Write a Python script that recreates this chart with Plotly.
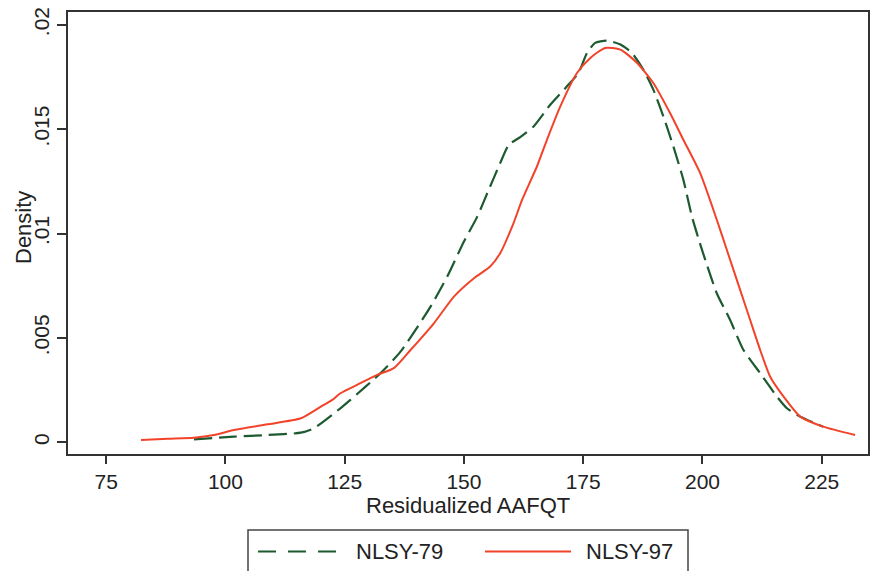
import plotly.graph_objects as go

# NLSY-79 kernel density (dashed green)
x79 = [93.4, 101.8, 108.8, 115.8, 118.5, 124.1, 126.2, 132.5, 136.7, 143.0, 146.5,
       150.0, 152.8, 155.2, 157.6, 159.4, 161.8, 164.6, 168.1, 171.6, 174.0, 175.8,
       177.5, 180.0, 182.8, 185.2, 187.6, 189.7, 191.8, 193.9, 196.0, 197.8, 199.9,
       203.0, 205.8, 208.6, 212.1, 215.6, 217.7, 220.5, 225.3]
y79 = [.00014, .00027, .00035, .00046, .00067, .00163, .00203, .00331, .00434, .0065, .00794,
       .00962, .01081, .0121, .01337, .01425, .01462, .01513, .01617, .01705, .01769, .01865,
       .01913, .01924, .01905, .01865, .01785, .01689, .01561, .01417, .01257, .01081, .00922,
       .00714, .00586, .00442, .00331, .00219, .00163, .00123, .00075]

# NLSY-97 kernel density (solid red)
x97 = [82.3, 87.9, 93.4, 97.6, 101.8, 108.8, 115.8, 120.0, 122.4, 124.1, 127.6, 131.8,
       135.3, 138.8, 143.7, 147.9, 152.1, 155.5, 157.6, 160.4, 162.2, 165.3, 167.4, 170.2,
       173.7, 176.5, 179.6, 182.8, 186.3, 189.7, 193.2, 196.0, 199.5, 203.0, 205.1, 207.9,
       210.0, 212.1, 214.2, 217.0, 220.5, 225.3, 232.0]
y97 = [.00011, .00017, .00022, .00035, .00059, .00086, .00115, .00171, .00203, .00235, .00275, .00323,
       .00355, .00442, .0057, .00698, .00786, .00842, .00906, .0105, .01162, .01321, .01449, .01609,
       .01769, .01841, .01889, .01881, .01817, .01721, .01577, .01449, .0129, .01066, .00922, .0073,
       .00586, .00442, .00314, .00219, .00123, .00075, .00035]

xticks = [75, 100, 125, 150, 175, 200, 225]
yticks = [0, 0.005, 0.01, 0.015, 0.02]
yticktext = ["0", ".005", ".01", ".015", ".02"]
series_names = ["NLSY-79", "NLSY-97"]

GREEN = "#1d5a2f"
RED = "#f2432a"
AX = "#333333"
FONT = "Liberation Sans, Arial, sans-serif"

fig = go.Figure()
fig.add_trace(go.Scatter(x=x79, y=y79, mode="lines", name=series_names[0],
                         line=dict(color=GREEN, width=2.2, dash="18px,7px", shape="spline", smoothing=0.6),
                         showlegend=False))
fig.add_trace(go.Scatter(x=x97, y=y97, mode="lines", name=series_names[1],
                         line=dict(color=RED, width=2, shape="spline", smoothing=0.6),
                         showlegend=False))

# page body has an 8px default margin; size the figure so the plot lands where the reference has it
OX, OY = 8, 8
W, H = 888 - OX, 571 - OY
L, R, T, B = 68 - OX, 20, 12 - OY, 117
pw, ph = W - L - R, H - T - B

def px(xp):  # window pixel x -> paper
    return (xp - OX - L) / pw

def py(yp):  # window pixel y -> paper
    return (OY + H - B - yp) / ph

shapes = [
    dict(type="rect", xref="paper", yref="paper", x0=px(248), x1=px(688), y0=py(585), y1=py(530),
         line=dict(color="#444444", width=1.5), fillcolor="rgba(0,0,0,0)", layer="above"),
    dict(type="line", xref="paper", yref="paper", x0=px(258), x1=px(342), y0=py(551.5), y1=py(551.5),
         line=dict(color=GREEN, width=2.2, dash="18px,12px")),
    dict(type="line", xref="paper", yref="paper", x0=px(485), x1=px(571), y0=py(551.5), y1=py(551.5),
         line=dict(color=RED, width=2)),
]
annotations = [
    dict(text=series_names[0], xref="paper", yref="paper", x=px(354), y=py(551.5), xanchor="left",
         yanchor="middle", showarrow=False, font=dict(family=FONT, size=22, color="#222")),
    dict(text=series_names[1], xref="paper", yref="paper", x=px(584), y=py(551.5), xanchor="left",
         yanchor="middle", showarrow=False, font=dict(family=FONT, size=22, color="#222")),
    dict(text="Residualized AAFQT", xref="paper", yref="paper", x=0.5, y=py(505), xanchor="center",
         yanchor="middle", showarrow=False, font=dict(family=FONT, size=22, color="#222")),
    dict(text="Density", xref="paper", yref="paper", x=px(23), y=py(228), xanchor="center",
         yanchor="middle", textangle=-90, showarrow=False, font=dict(family=FONT, size=22, color="#222")),
]

fig.update_layout(
    template="none",
    width=W, height=H,
    margin=dict(l=L, r=R, t=T, b=B, autoexpand=False),
    paper_bgcolor="white", plot_bgcolor="white",
    font=dict(family=FONT, size=21, color="#222"),
    shapes=shapes, annotations=annotations,
    showlegend=False,
)
fig.update_xaxes(range=[67.0, 234.7], tickvals=xticks, ticks="outside", ticklen=8, tickwidth=1.5,
                 tickcolor=AX, showline=True, linecolor=AX, linewidth=1.8, mirror=True, automargin=False,
                 showgrid=False, zeroline=False, ticklabeloverflow="allow",
                 tickfont=dict(size=21, family=FONT, color="#222"))
fig.update_yaxes(range=[-0.00056, 0.02061], tickvals=yticks, ticktext=yticktext, ticks="outside",
                 ticklen=9, tickwidth=1.5, tickcolor=AX, showline=True, linecolor=AX, linewidth=1.8,
                 mirror=True, showgrid=False, zeroline=False, tickangle=-90, automargin=False,
                 ticklabeloverflow="allow",
                 tickfont=dict(size=21, family=FONT, color="#222"))

fig.write_html("out.html")
